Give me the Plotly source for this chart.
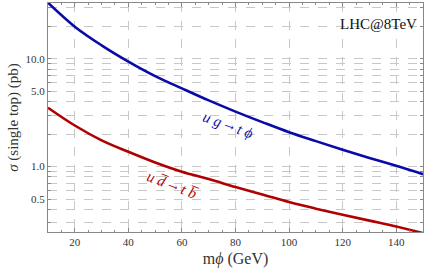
import numpy as np
import plotly.graph_objects as go

# data
m_phi = [10, 20, 30, 40, 50, 60, 70, 80, 90, 100, 110, 120, 130, 140, 150]
sigma_ug = [33.0, 19.8, 13.3, 9.4, 6.9, 5.3, 4.1, 3.23, 2.58, 2.08, 1.72, 1.43, 1.2, 1.015, 0.85]
sigma_ud = [3.51, 2.4, 1.75, 1.37, 1.09, 0.895, 0.765, 0.645, 0.55, 0.468, 0.407, 0.357, 0.315, 0.278, 0.242]

x_ticks = [20, 40, 60, 80, 100, 120, 140]
y_grid = [0.3, 0.4, 0.5, 0.6, 0.7, 0.8, 0.9, 1, 2, 3, 4, 5, 6, 7, 8, 9, 10, 20, 30]
y_labels = {0.5: "0.5", 1: "1.0", 5: "5.0", 10: "10.0"}

BLUE = "#0a0aa8"
RED = "#b00000"
SERIF = "'Liberation Serif', 'Times New Roman', 'DejaVu Serif', serif"
ARROW = "<span style='font-family:DejaVu Serif;font-size:12px'>→</span>"

fig = go.Figure()
fig.add_trace(go.Scatter(x=m_phi, y=sigma_ug, mode="lines", line=dict(color=BLUE, width=2.6, shape="spline", smoothing=1.0), showlegend=False))
fig.add_trace(go.Scatter(x=m_phi, y=sigma_ud, mode="lines", line=dict(color=RED, width=2.6, shape="spline", smoothing=1.0), showlegend=False))

axis_common = dict(showline=True, linecolor="#888888", linewidth=1, mirror="allticks",
                   ticks="inside", tickcolor="#888888", gridcolor="#c8c8c8", griddash="dash",
                   gridwidth=1, zeroline=False,
                   tickfont=dict(family=SERIF, size=11, color="#333333"))

fig.update_xaxes(range=[10, 150], tickvals=x_ticks, ticklen=4,
                 minor=dict(dtick=5, ticks="inside", ticklen=2, tickcolor="#888888", showgrid=False),
                 title=dict(text="m<i>ϕ</i> (GeV)", font=dict(family=SERIF, size=16, color="#333333"), standoff=5),
                 **axis_common)
fig.update_yaxes(type="log", range=[-0.607, 1.516], tickvals=y_grid,
                 ticktext=[y_labels.get(v, "") for v in y_grid], ticklen=3,
                 title=dict(text="<i>σ</i> (single top) (pb)", font=dict(family=SERIF, size=15, color="#333333"), standoff=3),
                 **axis_common)

fig.add_annotation(x=77.2, y=np.log10(2.43), xref="x", yref="y", text=f"<i>u g</i> {ARROW} <i>t ϕ</i>",
                   showarrow=False, textangle=20, font=dict(family=SERIF, size=15, color=BLUE))
fig.add_annotation(x=56.3, y=np.log10(0.677), xref="x", yref="y", text=f"<i>u d\u0305</i> {ARROW} <i>t b\u0305</i>",
                   showarrow=False, textangle=21, font=dict(family=SERIF, size=15, color=RED))
fig.add_annotation(x=0.99, y=0.91, xref="paper", yref="paper", xanchor="right", yanchor="middle",
                   text="LHC@8TeV", showarrow=False, font=dict(family=SERIF, size=15, color="#111111"))

fig.update_layout(width=426, height=275, margin=dict(l=48, r=3, t=3, b=43),
                  paper_bgcolor="white", plot_bgcolor="white")
fig.write_html("out.html", config={"displayModeBar": False},
               post_script="document.body.style.margin='0';document.body.style.padding='0';")
